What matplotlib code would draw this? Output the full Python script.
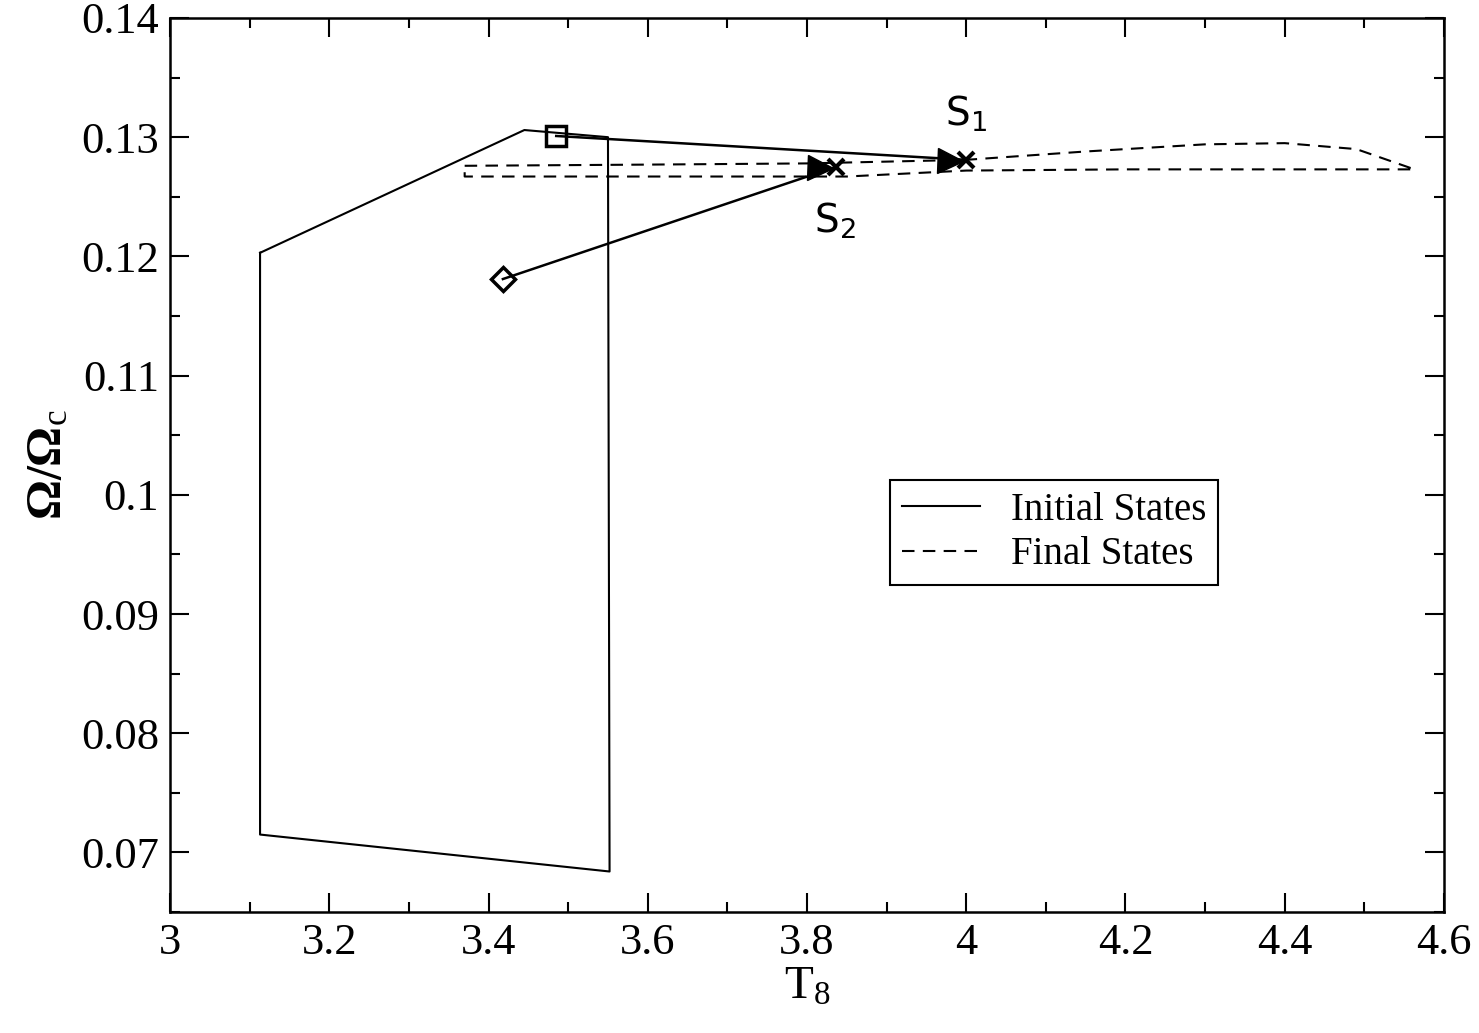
import matplotlib
matplotlib.use("Agg")
import matplotlib.pyplot as plt

# initial states (solid polygon)
init_T = [3.113, 3.445, 3.55, 3.552, 3.113, 3.113]
init_W = [0.1203, 0.1306, 0.1300, 0.0684, 0.0715, 0.1203]

# final states (dashed loop)
final_T = [3.37, 3.60, 3.80, 4.00, 4.15, 4.30, 4.40, 4.49, 4.563,
           4.40, 4.20, 4.00, 3.85, 3.60, 3.37, 3.37]
final_W = [0.1276, 0.1277, 0.1278, 0.1281, 0.1288, 0.1294, 0.1295, 0.1290, 0.1273,
           0.1273, 0.1273, 0.1272, 0.1267, 0.1267, 0.1267, 0.1276]

# evolution paths
s1_start = (3.485, 0.1301)
s1_end = (4.0, 0.1281)
s2_start = (3.418, 0.1181)
s2_end = (3.836, 0.1275)

plt.rcParams["font.family"] = ["Liberation Serif", "DejaVu Serif"]
plt.rcParams["mathtext.fontset"] = "custom"
plt.rcParams["mathtext.rm"] = "Liberation Serif"
plt.rcParams["mathtext.it"] = "Liberation Serif"
plt.rcParams["mathtext.sf"] = "DejaVu Sans"
fig = plt.figure(figsize=(14.79, 10.33), dpi=100)
ax = fig.add_axes([0.115, 0.1171, 0.8613, 0.8655])

ax.plot(init_T, init_W, "k-", lw=1.5, label="Initial States")
ax.plot(final_T, final_W, "k--", lw=1.5, dashes=(6, 4), label="Final States")

for start, end, mk in [(s1_start, s1_end, "s"), (s2_start, s2_end, "D")]:
    ax.plot([start[0], end[0]], [start[1], end[1]], "k-", lw=1.8)
    ax.plot(start[0], start[1], mk, ms=14 if mk == "s" else 12, mfc="none", mec="k", mew=2.5)
    ax.plot(end[0] - 0.02, end[1] - 0.00008, ">", ms=18, color="k")
    ax.plot(end[0], end[1], "x", ms=12, color="k", mew=3)

ax.text(4.0, 0.1310, r"$\mathsf{S_1}$", fontsize=28, ha="center")
ax.text(3.835, 0.1220, r"$\mathsf{S_2}$", fontsize=28, ha="center")

ax.set_xlim(3, 4.6)
ax.set_ylim(0.065, 0.14)
ax.set_xticks([3, 3.2, 3.4, 3.6, 3.8, 4, 4.2, 4.4, 4.6])
ax.set_xticklabels(["3", "3.2", "3.4", "3.6", "3.8", "4", "4.2", "4.4", "4.6"])
ax.set_yticks([0.07, 0.08, 0.09, 0.1, 0.11, 0.12, 0.13, 0.14])
ax.set_yticklabels(["0.07", "0.08", "0.09", "0.1", "0.11", "0.12", "0.13", "0.14"])
ax.xaxis.set_minor_locator(matplotlib.ticker.MultipleLocator(0.1))
ax.yaxis.set_minor_locator(matplotlib.ticker.MultipleLocator(0.005))
ax.tick_params(which="both", direction="in", top=True, right=True, labelsize=32, width=1.5)
ax.tick_params(which="major", length=14, pad=8)
ax.tick_params(which="minor", length=7)
for s in ax.spines.values():
    s.set_linewidth(1.8)

ax.set_xlabel(r"T$_\mathrm{8}$", fontsize=34, labelpad=2)
ax.set_ylabel(r"Ω/Ω$_\mathrm{c}$", fontsize=36, labelpad=6, fontweight="bold")

leg = ax.legend(loc="upper left", bbox_to_anchor=(0.55, 0.505), fontsize=28,
                frameon=True, fancybox=False, edgecolor="k", handlelength=2.0,
                borderpad=0.3, labelspacing=0.2, framealpha=1)
leg.get_frame().set_linewidth(1.5)

fig.savefig("out.png", dpi=100)
